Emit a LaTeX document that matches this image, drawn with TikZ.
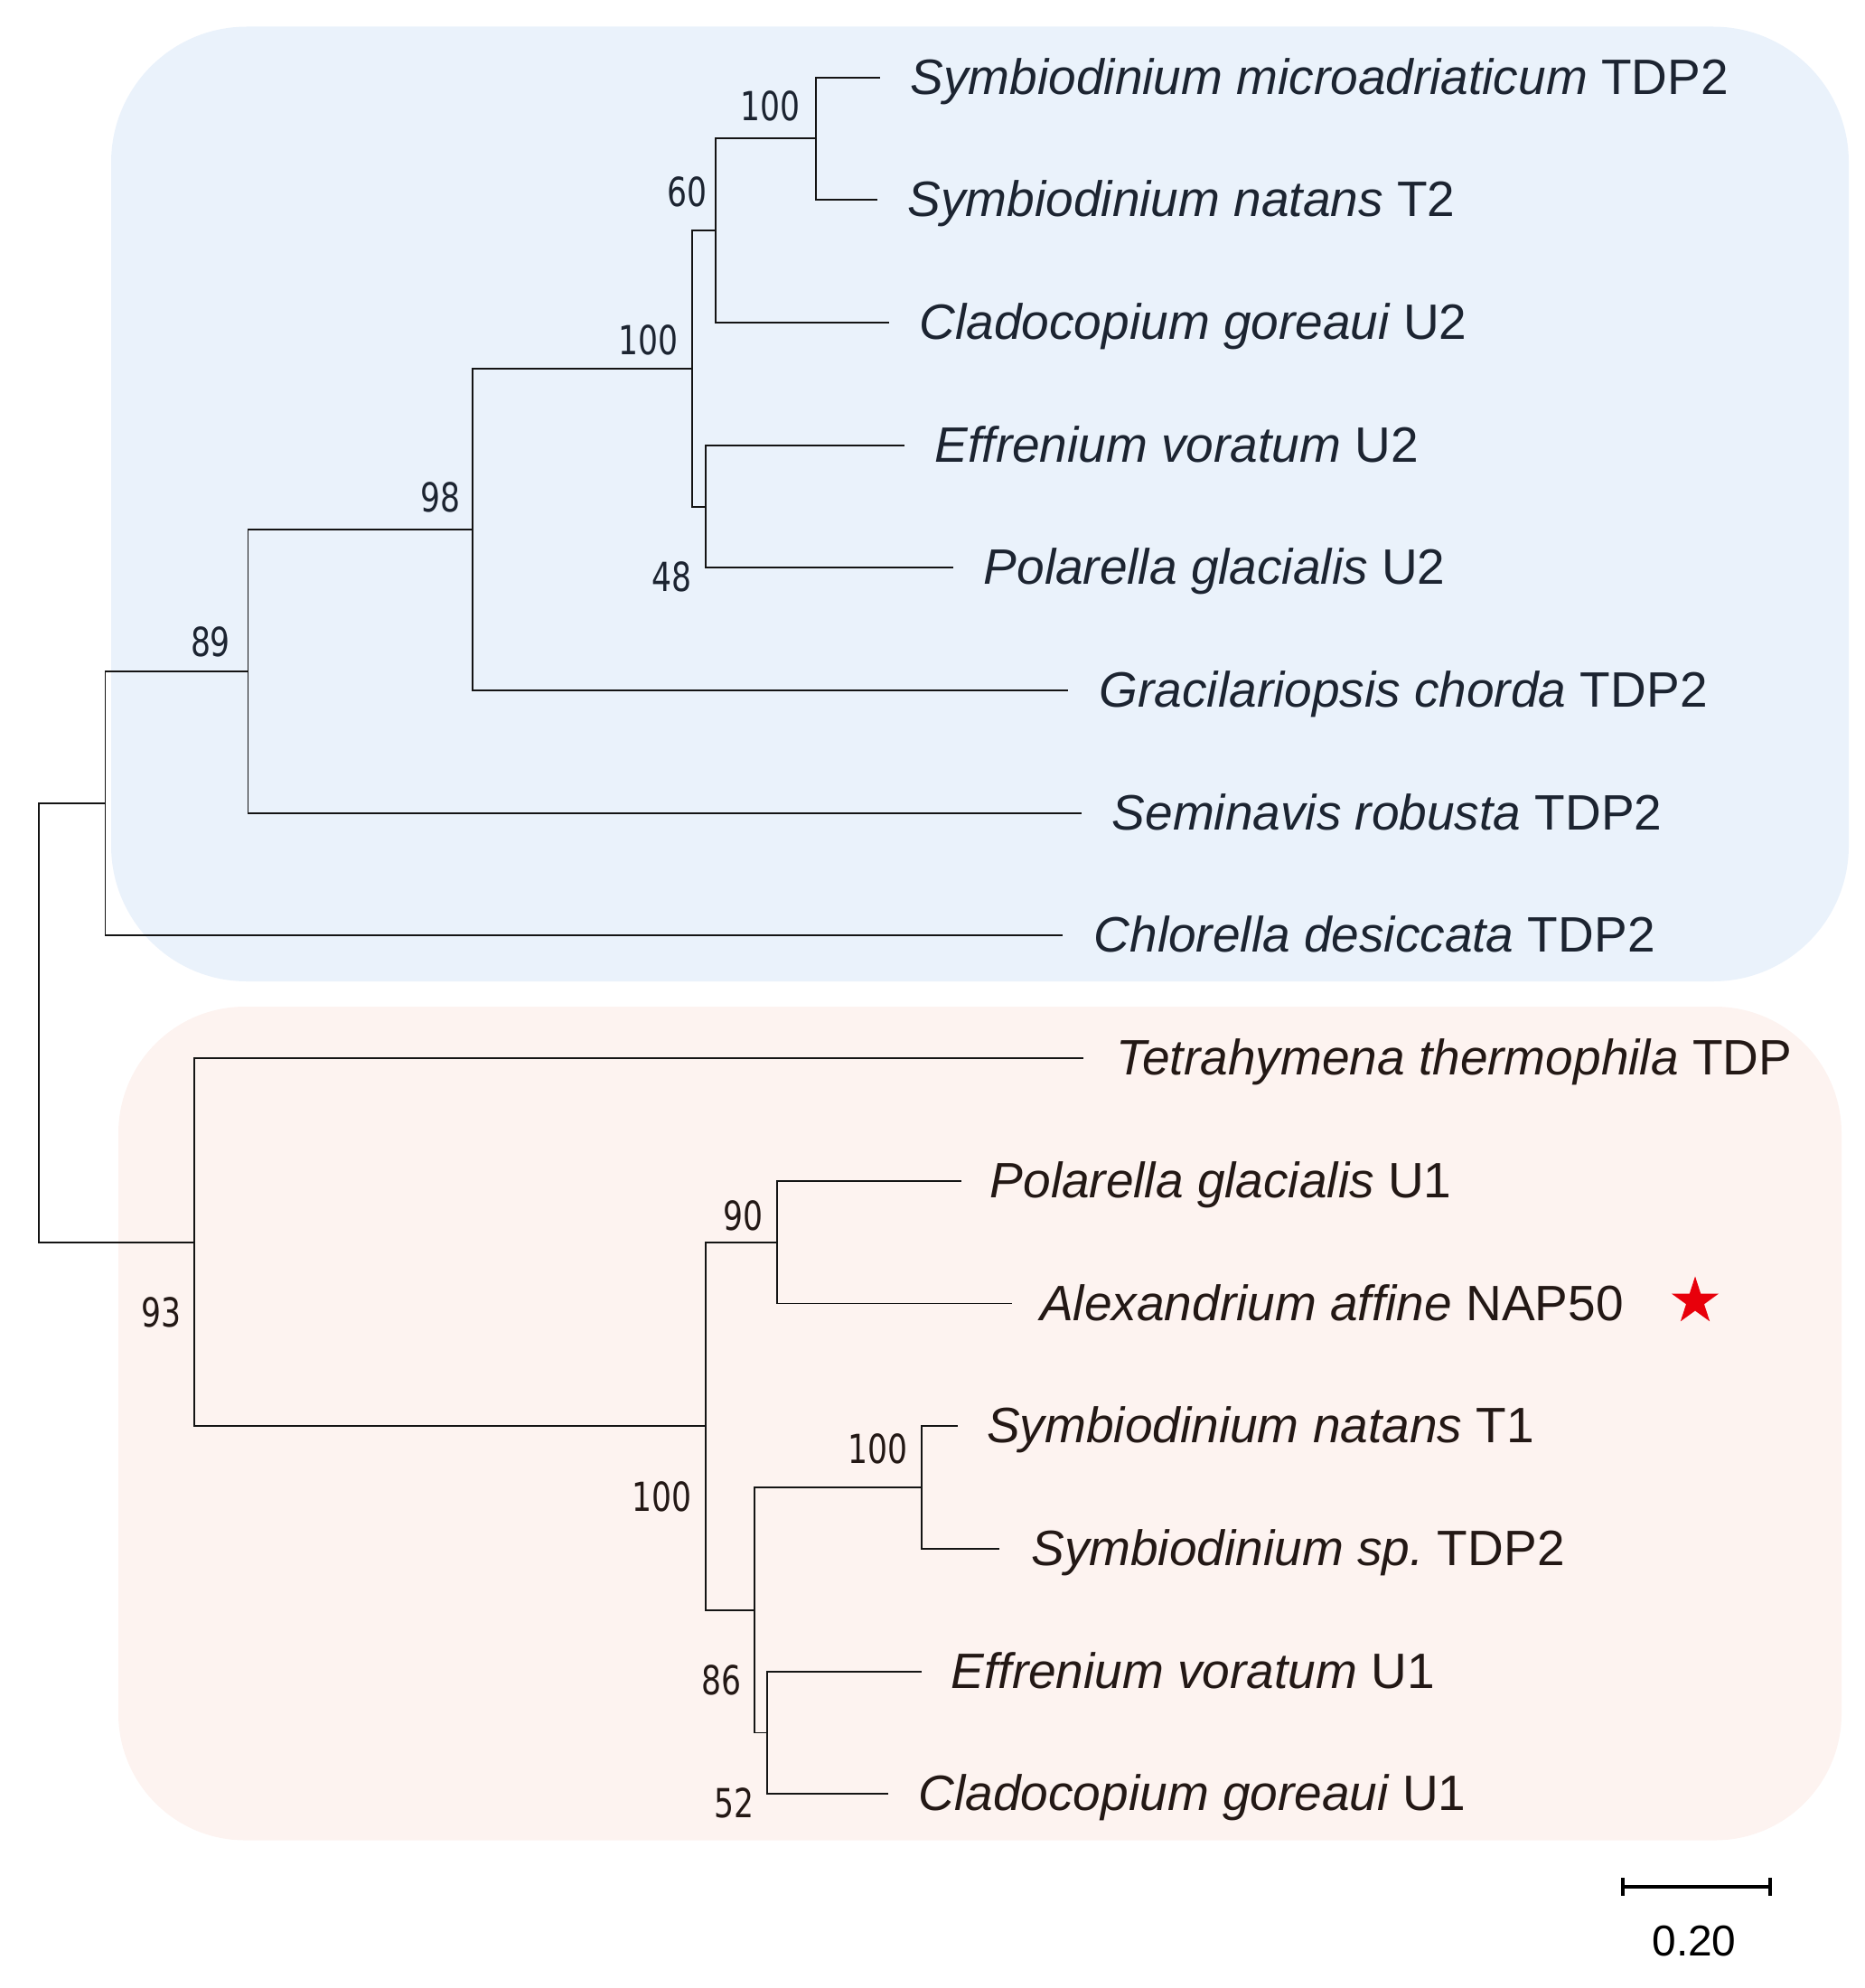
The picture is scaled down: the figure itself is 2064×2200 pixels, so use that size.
\documentclass[tikz,border=0pt]{standalone}
\usepackage{fontspec}
\setmainfont{Liberation Sans}
\newfontfamily\numfont[FakeStretch=0.78]{DejaVu Sans}
\usetikzlibrary{shapes.geometric}
\definecolor{bgblue}{RGB}{234,242,251}
\definecolor{bgpink}{RGB}{253,243,240}
\definecolor{topcol}{RGB}{28,36,49}
\definecolor{botcol}{RGB}{35,24,21}
\definecolor{treecol}{RGB}{20,20,20}
\definecolor{starred}{RGB}{232,0,11}
\tikzset{
  branch/.style={line width=0.55pt, draw=treecol},
  leaflab/.style={anchor=base west, inner sep=0pt, font=\fontsize{15.65}{18}\selectfont},
  boot/.style={inner sep=0pt, font=\numfont\fontsize{12.6}{14}\selectfont},
  scalebar/.style={line width=1.15pt, draw=black},
}
\begin{document}
\begin{tikzpicture}[x=0.01cm,y=-0.01cm]
\useasboundingbox (0,0) rectangle (2064,2200);
% clade backgrounds
\fill[bgblue, rounded corners=1.5cm] (123,29.5) rectangle (2046,1086);
\fill[bgpink, rounded corners=1.4cm] (131,1114) rectangle (2038,2036.5);

% leaf ends
\coordinate (l1) at (974.3,85.6);
\coordinate (l2) at (971,221.3);
\coordinate (l3) at (984,357.0);
\coordinate (l4) at (1000.7,492.7);
\coordinate (l5) at (1055,628.4);
\coordinate (l6) at (1182,764.1);
\coordinate (l7) at (1196.6,899.7);
\coordinate (l8) at (1175.5,1035.4);
\coordinate (l9) at (1198.6,1171.1);
\coordinate (l10) at (1063.6,1306.8);
\coordinate (l11) at (1119.6,1442.5);
\coordinate (l12) at (1059.6,1578.2);
\coordinate (l13) at (1106.4,1713.9);
\coordinate (l14) at (1020,1849.6);
\coordinate (l15) at (983,1985.3);

% internal nodes
\coordinate (G) at (903.2,153.45);
\coordinate (E) at (792,255.2);
\coordinate (F) at (780.8,560.55);
\coordinate (D) at (765.6,407.9);
\coordinate (C) at (523.4,586);
\coordinate (B) at (274.5,742.85);
\coordinate (A) at (116.5,889.1);
\coordinate (J) at (859.8,1374.65);
\coordinate (L) at (1019.8,1646.05);
\coordinate (M) at (848.6,1917.45);
\coordinate (K) at (835.4,1781.75);
\coordinate (I) at (780.8,1578.2);
\coordinate (H) at (214.6,1374.65);
\coordinate (R) at (42.8,1131.9);

% branches
\draw[branch] (R) |- (A);
\draw[branch] (R) |- (H);
\draw[branch] (A) |- (B);
\draw[branch] (A) |- (l8);
\draw[branch] (B) |- (C);
\draw[branch] (B) |- (l7);
\draw[branch] (C) |- (D);
\draw[branch] (C) |- (l6);
\draw[branch] (D) |- (E);
\draw[branch] (D) |- (F);
\draw[branch] (E) |- (G);
\draw[branch] (E) |- (l3);
\draw[branch] (G) |- (l1);
\draw[branch] (G) |- (l2);
\draw[branch] (F) |- (l4);
\draw[branch] (F) |- (l5);
\draw[branch] (H) |- (l9);
\draw[branch] (H) |- (I);
\draw[branch] (I) |- (J);
\draw[branch] (I) |- (K);
\draw[branch] (J) |- (l10);
\draw[branch] (J) |- (l11);
\draw[branch] (K) |- (L);
\draw[branch] (K) |- (M);
\draw[branch] (L) |- (l12);
\draw[branch] (L) |- (l13);
\draw[branch] (M) |- (l14);
\draw[branch] (M) |- (l15);

% leaf labels
\begin{scope}[leaflab/.append style={text=topcol}]
\node[leaflab] (t1) at (1007,104.1) {\itshape Symbiodinium microadriaticum\upshape\ TDP2};
\node[leaflab] (t2) at (1004,239.8) {\itshape Symbiodinium natans\upshape\ T2};
\node[leaflab] (t3) at (1017,375.5) {\itshape Cladocopium goreaui\upshape\ U2};
\node[leaflab] (t4) at (1034,511.2) {\itshape Effrenium voratum\upshape\ U2};
\node[leaflab] (t5) at (1088,646.9) {\itshape Polarella glacialis\upshape\ U2};
\node[leaflab] (t6) at (1216,782.6) {\itshape Gracilariopsis chorda\upshape\ TDP2};
\node[leaflab] (t7) at (1230,918.2) {\itshape Seminavis robusta\upshape\ TDP2};
\node[leaflab] (t8) at (1210,1053.9) {\itshape Chlorella desiccata\upshape\ TDP2};
\end{scope}
\begin{scope}[leaflab/.append style={text=botcol}]
\node[leaflab] (t9) at (1235,1189.6) {\itshape Tetrahymena thermophila\upshape\ TDP};
\node[leaflab] (t10) at (1095,1325.3) {\itshape Polarella glacialis\upshape\ U1};
\node[leaflab] (t11) at (1150.5,1461) {\itshape Alexandrium affine\upshape\ NAP50};
\node[leaflab] (t12) at (1091.5,1596.7) {\itshape Symbiodinium natans\upshape\ T1};
\node[leaflab] (t13) at (1140.6,1732.4) {\itshape Symbiodinium sp.\upshape\ TDP2};
\node[leaflab] (t14) at (1052,1868.1) {\itshape Effrenium voratum\upshape\ U1};
\node[leaflab] (t15) at (1016,2003.8) {\itshape Cladocopium goreaui\upshape\ U1};
\end{scope}

% star
\node[star, star points=5, star point ratio=2.618, fill=starred, inner sep=0pt, minimum size=0.55cm] (redstar) at (1876,1440) {};

% bootstrap values
\begin{scope}[boot/.append style={text=topcol}]
\node[boot] (bG) at (852.5,117.7) {100};
\node[boot] (bE) at (760.4,212.6) {60};
\node[boot] (bD) at (717.6,376.7) {100};
\node[boot] (bC) at (487.2,550.7) {98};
\node[boot] (bF) at (743.9,638.4) {48};
\node[boot] (bB) at (233,710.6) {89};
\end{scope}
\begin{scope}[boot/.append style={text=botcol}]
\node[boot] (bH) at (178.2,1452.3) {93};
\node[boot] (bJ) at (822.9,1345.5) {90};
\node[boot] (bI) at (732.7,1656.3) {100};
\node[boot] (bL) at (971.7,1603.7) {100};
\node[boot] (bK) at (798.6,1859.7) {86};
\node[boot] (bM) at (812.4,1995.8) {52};
\end{scope}

% scale bar
\coordinate (sb1) at (1795.5,2088.3);
\coordinate (sb2) at (1958.5,2088.3);
\draw[scalebar] (sb1) -- (sb2);
\draw[scalebar] ([yshift=0.1cm]sb1) -- ([yshift=-0.1cm]sb1);
\draw[scalebar] ([yshift=0.1cm]sb2) -- ([yshift=-0.1cm]sb2);
\node[inner sep=0pt, font=\fontsize{13.6}{16}\selectfont] (sblab) at (1875,2148.3) {0.20};
\end{tikzpicture}
\end{document}
